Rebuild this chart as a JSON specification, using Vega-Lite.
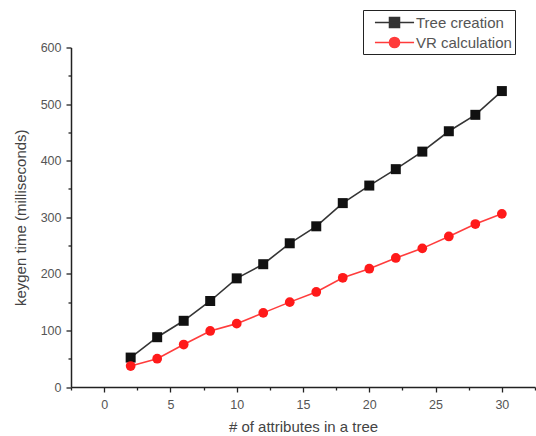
{
  "$schema": "https://vega.github.io/schema/vega-lite/v6.json",
  "autosize": "none",
  "padding": {"left": 71, "top": 47.5, "right": 1, "bottom": 48.5},
  "width": 464,
  "height": 339.5,
  "background": "white",
  "config": {
    "view": {"stroke": null},
    "font": "Liberation Sans",
    "axis": {
      "grid": false,
      "domainColor": "#222",
      "domainWidth": 1.5,
      "tickColor": "#222",
      "tickWidth": 1.3,
      "labelColor": "#555",
      "labelFont": "Liberation Sans",
      "labelFontSize": 12.5,
      "titleColor": "#444",
      "titleFont": "Liberation Sans",
      "titleFontSize": 15,
      "titleFontWeight": "normal"
    }
  },
  "data": {
    "values": [
      {"n": 2, "series": "Tree creation", "t": 52},
      {"n": 4, "series": "Tree creation", "t": 88},
      {"n": 6, "series": "Tree creation", "t": 117},
      {"n": 8, "series": "Tree creation", "t": 152},
      {"n": 10, "series": "Tree creation", "t": 192},
      {"n": 12, "series": "Tree creation", "t": 217},
      {"n": 14, "series": "Tree creation", "t": 254},
      {"n": 16, "series": "Tree creation", "t": 284},
      {"n": 18, "series": "Tree creation", "t": 325},
      {"n": 20, "series": "Tree creation", "t": 356},
      {"n": 22, "series": "Tree creation", "t": 385},
      {"n": 24, "series": "Tree creation", "t": 416},
      {"n": 26, "series": "Tree creation", "t": 452},
      {"n": 28, "series": "Tree creation", "t": 481},
      {"n": 30, "series": "Tree creation", "t": 523},
      {"n": 2, "series": "VR calculation", "t": 37},
      {"n": 4, "series": "VR calculation", "t": 50},
      {"n": 6, "series": "VR calculation", "t": 75},
      {"n": 8, "series": "VR calculation", "t": 99},
      {"n": 10, "series": "VR calculation", "t": 112},
      {"n": 12, "series": "VR calculation", "t": 131},
      {"n": 14, "series": "VR calculation", "t": 150},
      {"n": 16, "series": "VR calculation", "t": 168},
      {"n": 18, "series": "VR calculation", "t": 193},
      {"n": 20, "series": "VR calculation", "t": 209},
      {"n": 22, "series": "VR calculation", "t": 228},
      {"n": 24, "series": "VR calculation", "t": 245},
      {"n": 26, "series": "VR calculation", "t": 266},
      {"n": 28, "series": "VR calculation", "t": 288},
      {"n": 30, "series": "VR calculation", "t": 306}
    ]
  },
  "encoding": {
    "x": {
      "field": "n", "type": "quantitative",
      "scale": {"domain": [-2.5, 32.5], "nice": false, "zero": false},
      "axis": {
        "title": "# of attributes in a tree",
        "values": [-2.5, 0, 2.5, 5, 7.5, 10, 12.5, 15, 17.5, 20, 22.5, 25, 27.5, 30, 32.5],
        "labelExpr": "datum.value % 5 === 0 ? datum.label : ''",
        "tickSize": {"condition": {"test": "datum.value % 5 === 0", "value": 5}, "value": 3},
        "labelPadding": 6,
        "titlePadding": 9
      }
    },
    "y": {
      "field": "t", "type": "quantitative",
      "scale": {"domain": [0, 600], "nice": false},
      "axis": {
        "title": "keygen time (milliseconds)",
        "values": [0, 50, 100, 150, 200, 250, 300, 350, 400, 450, 500, 550, 600],
        "labelExpr": "datum.value % 100 === 0 ? datum.label : ''",
        "tickSize": {"condition": {"test": "datum.value % 100 === 0", "value": 5}, "value": 3},
        "labelPadding": 5,
        "titlePadding": 12
      }
    },
    "color": {
      "field": "series", "type": "nominal",
      "scale": {"domain": ["Tree creation", "VR calculation"], "range": ["#111111", "#ff1a1a"]},
      "legend": {
        "title": null,
        "orient": "none",
        "legendX": 292,
        "legendY": -37.5,
        "strokeColor": "#222",
        "fillColor": "white",
        "padding": 3,
        "labelFontSize": 15,
        "labelColor": "#555",
        "labelFont": "Liberation Sans",
        "symbolType": "M-2.3,0L2.3,0M-0.59,-0.59H0.59V0.59H-0.59Z",
        "symbolSize": 289,
        "symbolOffset": 19,
        "symbolStrokeWidth": 1.5,
        "rowPadding": 2,
        "labelOffset": 12,
        "encoding": {
          "symbols": {
            "shape": {"value": {"expr": "datum.value === 'Tree creation' ? 'M-2.3,0L2.3,0M-0.59,-0.59H0.59V0.59H-0.59Z' : 'M-2.3,0L2.3,0M-0.6,0A0.6,0.6 0 1,0 0.6,0A0.6,0.6 0 1,0 -0.6,0Z'"}},
            "fill": {"value": {"expr": "datum.value === 'Tree creation' ? '#000' : '#f00'"}},
            "stroke": {"value": {"expr": "datum.value === 'Tree creation' ? '#000' : '#f00'"}},
            "fillOpacity": {"value": 1},
            "strokeWidth": {"value": 1.5}
          }
        }
      }
    }
  },
  "layer": [
    {
      "mark": {"type": "line", "strokeWidth": 1.6, "opacity": 0.85}
    },
    {
      "transform": [{"filter": "datum.series === 'Tree creation'"}],
      "mark": {"type": "point", "filled": true, "opacity": 1, "shape": "square", "size": 100}
    },
    {
      "transform": [{"filter": "datum.series === 'VR calculation'"}],
      "mark": {"type": "point", "filled": true, "opacity": 1, "shape": "circle", "size": 95}
    }
  ]
}
